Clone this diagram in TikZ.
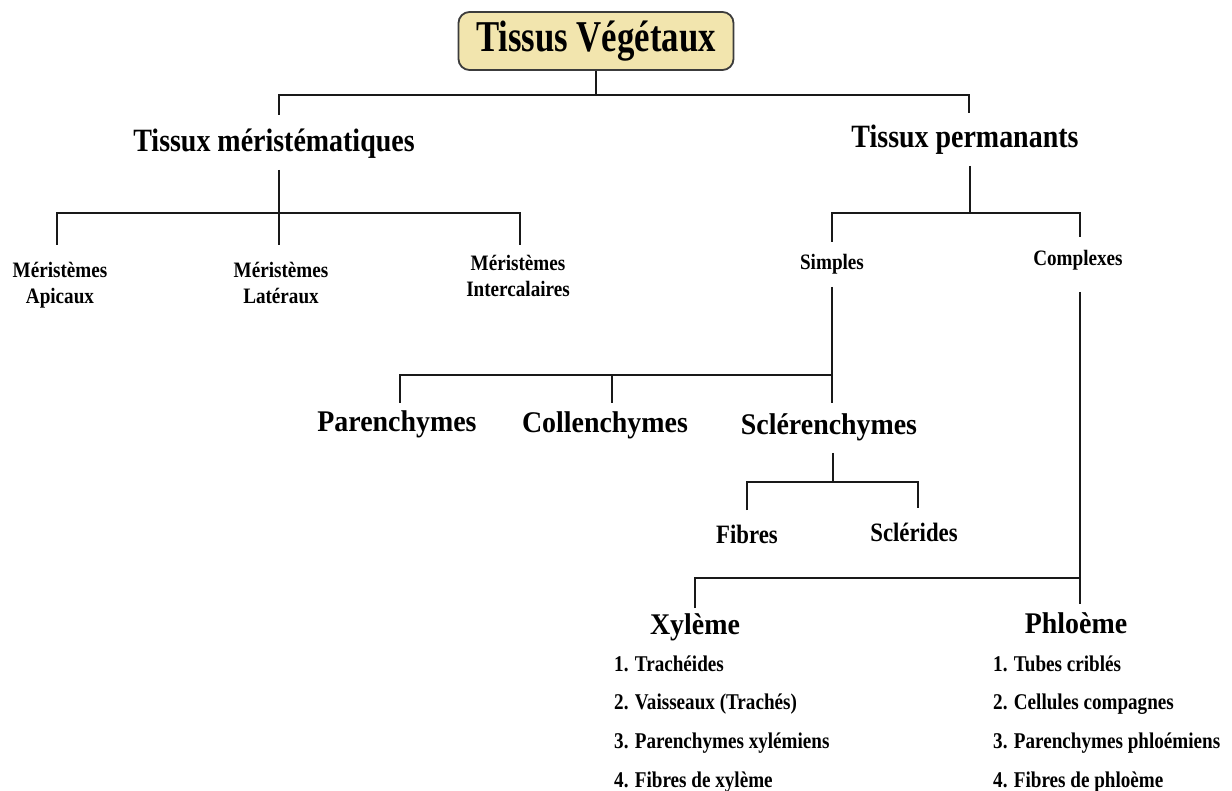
\documentclass[tikz,border=0pt]{standalone}
\usepackage{fontspec}
\usepackage{graphicx}
\setmainfont{Liberation Serif}
\newfontfamily\fTitle[FakeStretch=0.79]{Liberation Serif}
\newfontfamily\fHead[FakeStretch=0.86]{Liberation Serif}
\newfontfamily\fMid[FakeStretch=0.93]{Liberation Serif}
\newfontfamily\fFib[FakeStretch=0.86]{Liberation Serif}
\newfontfamily\fSmall[FakeStretch=0.87]{Liberation Serif}
\newfontfamily\fList[FakeStretch=0.85]{Liberation Serif}
\definecolor{boxfill}{RGB}{242,229,174}
\definecolor{ink}{RGB}{25,25,25}
\begin{document}
\begin{tikzpicture}[x=1pt,y=-1pt,
  conn/.style={line width=2.7pt, draw=ink, line join=miter},
  titlebox/.style={draw=ink!85, line width=1.8pt, fill=boxfill, rounded corners=11pt,
    minimum width=275pt, minimum height=58pt, inner sep=0pt,
    font=\fTitle\bfseries\fontsize{44}{50}\selectfont},
  headtxt/.style={inner sep=0pt, anchor=base, font=\fHead\bfseries\fontsize{32.5}{36}\selectfont},
  midtxt/.style={inner sep=0pt, anchor=base, font=\fMid\bfseries\fontsize{30}{34}\selectfont},
  fibtxt/.style={inner sep=0pt, anchor=base, font=\fFib\bfseries\fontsize{26.5}{30}\selectfont},
  smalltxt/.style={inner sep=0pt, anchor=base, font=\fSmall\bfseries\fontsize{22}{26}\selectfont},
  listtxt/.style={inner sep=0pt, anchor=base west, font=\fList\bfseries\fontsize{22.5}{38.7}\selectfont}
]
\useasboundingbox (0,0) rectangle (1232,791);

% ---------- text nodes ----------
\node[titlebox] (title) at (596,41) {Tissus Végétaux};
\node[headtxt] (mer) at (274,152) {Tissux méristématiques};
\node[headtxt] (perm) at (965,148) {Tissux permanants};

\node[smalltxt] (apic) at (60,278) {\begin{tabular}[t]{@{}c@{}}Méristèmes\\Apicaux\end{tabular}};
\node[smalltxt] (lat) at (281,278) {\begin{tabular}[t]{@{}c@{}}Méristèmes\\Latéraux\end{tabular}};
\node[smalltxt] (inter) at (518,271) {\begin{tabular}[t]{@{}c@{}}Méristèmes\\Intercalaires\end{tabular}};

\node[smalltxt] (simp) at (832,270) {Simples};
\node[smalltxt] (cpx) at (1078,266) {Complexes};

\node[midtxt] (par) at (397,432) {Parenchymes};
\node[midtxt] (col) at (605,433) {Collenchymes};
\node[midtxt] (scle) at (829,435) {Sclérenchymes};

\node[fibtxt] (fib) at (747,543) {Fibres};
\node[fibtxt] (sclr) at (914,541) {Sclérides};

\node[midtxt] (xyl) at (695,634) {Xylème};
\node[midtxt] (phl) at (1076,633) {Phloème};

\node[listtxt] (xyllist) at (614,671) {\begin{tabular}[t]{@{}l@{}}1. Trachéides\\2. Vaisseaux (Trachés)\\3. Parenchymes xylémiens\\4. Fibres de xylème\end{tabular}};
\node[listtxt] (phllist) at (993,671) {\begin{tabular}[t]{@{}l@{}}1. Tubes criblés\\2. Cellules compagnes\\3. Parenchymes phloémiens\\4. Fibres de phloème\end{tabular}};

% ---------- junction coordinates ----------
\coordinate (b0L) at (279,95);
\coordinate (b0R) at (969,95);
\coordinate (merTop) at (279,115);
\coordinate (permTop) at (969,113);

\coordinate (merBot) at (279,170);
\coordinate (b1L) at (57,213);
\coordinate (b1R) at (520,213);
\coordinate (apTop) at (57,245);
\coordinate (latTop) at (279,245);
\coordinate (intTop) at (520,245);

\coordinate (permBot) at (970,166);
\coordinate (b2M) at (970,213);
\coordinate (b2L) at (832,213);
\coordinate (b2R) at (1080,213);
\coordinate (simTop) at (832,242);
\coordinate (cpxTop) at (1080,237);

\coordinate (simBot) at (832,287);
\coordinate (b3L) at (400,375);
\coordinate (b3M) at (612,375);
\coordinate (b3R) at (832,375);
\coordinate (parTop) at (400,403);
\coordinate (colTop) at (612,403);
\coordinate (scleTop) at (832,403);

\coordinate (scleBot) at (833,453);
\coordinate (b4M) at (833,482);
\coordinate (b4L) at (747,482);
\coordinate (b4R) at (918,482);
\coordinate (fibTop) at (747,510);
\coordinate (sclrTop) at (918,508);

\coordinate (cpxBot) at (1080,292);
\coordinate (b5L) at (695,578);
\coordinate (b5R) at (1080,578);
\coordinate (xylTop) at (695,608);
\coordinate (phlTop) at (1080,604);

% ---------- connectors ----------
\draw[conn] (title.south) -- (title.south |- b0L);
\draw[conn] (merTop) -- (b0L) -- (b0R) -- (permTop);

\draw[conn] (merBot) -- (latTop);
\draw[conn] (apTop) -- (b1L) -- (b1R) -- (intTop);

\draw[conn] (permBot) -- (b2M);
\draw[conn] (simTop) -- (b2L) -- (b2R) -- (cpxTop);

\draw[conn] (simBot) -- (scleTop);
\draw[conn] (parTop) -- (b3L) -- (b3R);
\draw[conn] (b3M) -- (colTop);

\draw[conn] (scleBot) -- (b4M);
\draw[conn] (fibTop) -- (b4L) -- (b4R) -- (sclrTop);

\draw[conn] (cpxBot) -- (phlTop);
\draw[conn] (xylTop) -- (b5L) -- (b5R);
\end{tikzpicture}
\end{document}
